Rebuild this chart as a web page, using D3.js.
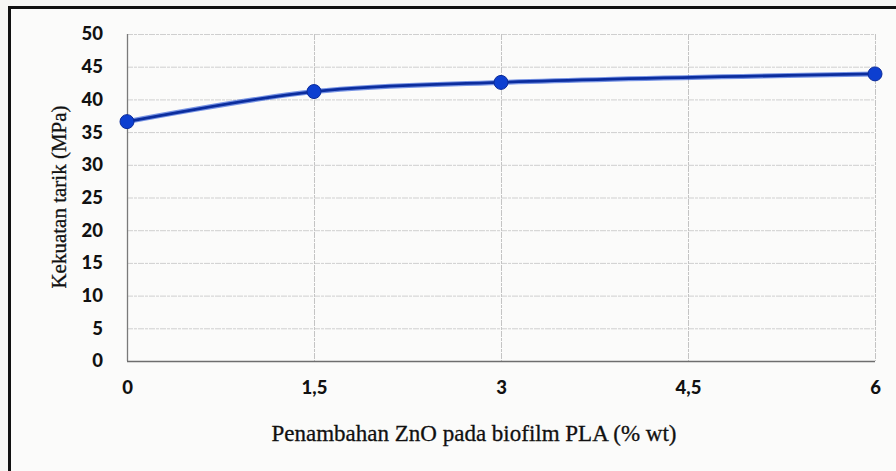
<!DOCTYPE html>
<html>
<head>
<meta charset="utf-8">
<script src="https://cdn.jsdelivr.net/npm/d3@7"></script>
<style>
  html, body { margin: 0; padding: 0; background: #f6f6f4; }
  svg { display: block; }
</style>
</head>
<body>
<svg id="chart" width="896" height="471"></svg>
<script>
// ZnO loading (% wt) and measured tensile strength (MPa)
const zno = [0, 1.5, 3, 6];
const strength = [36.6, 41.2, 42.6, 43.9];
const xTicks = [0, 1.5, 3, 4.5, 6];
const xTickLabels = ["0", "1,5", "3", "4,5", "6"];
const yTicks = [0, 5, 10, 15, 20, 25, 30, 35, 40, 45, 50];
const xTitle = "Penambahan ZnO pada biofilm PLA (% wt)";
const yTitle = "Kekuatan tarik (MPa)";

const svg = d3.select("#chart");
const W = 896, H = 471;
const plot = { left: 127, right: 875, top: 34, bottom: 361 };

// outer frame (top and left edges of the figure box)
svg.append("rect").attr("x", 9).attr("y", 7).attr("width", W).attr("height", H)
  .attr("fill", "#fbfbfa");
svg.append("line").attr("x1", 9).attr("x2", W).attr("y1", 7.5).attr("y2", 7.5)
  .attr("stroke", "#111").attr("stroke-width", 3);
svg.append("line").attr("x1", 9.5).attr("x2", 9.5).attr("y1", 6).attr("y2", H)
  .attr("stroke", "#111").attr("stroke-width", 3);

const x = d3.scaleLinear().domain([0, 6]).range([plot.left, plot.right]);
const y = d3.scaleLinear().domain([0, 50]).range([plot.bottom, plot.top]);

// gridlines
const grid = svg.append("g");
grid.selectAll(".hg").data(yTicks.filter(d => d > 0)).join("line")
  .attr("x1", plot.left).attr("x2", plot.right)
  .attr("y1", d => y(d) + 0.5).attr("y2", d => y(d) + 0.5)
  .attr("stroke", "#cfcfcf").attr("stroke-width", 1)
  .attr("stroke-dasharray", "6 1 3 1");
grid.selectAll(".vg").data(xTicks.filter(d => d > 0)).join("line")
  .attr("x1", d => x(d) + 0.5).attr("x2", d => x(d) + 0.5)
  .attr("y1", plot.top).attr("y2", plot.bottom)
  .attr("stroke", "#c4c4c4").attr("stroke-width", 1)
  .attr("stroke-dasharray", "6 1 3 1");

// axis lines
svg.append("line").attr("x1", plot.left + 0.5).attr("x2", plot.left + 0.5)
  .attr("y1", plot.top).attr("y2", plot.bottom)
  .attr("stroke", "#7a7a7a").attr("stroke-width", 1.3);
svg.append("line").attr("x1", plot.left).attr("x2", plot.right)
  .attr("y1", plot.bottom + 0.5).attr("y2", plot.bottom + 0.5)
  .attr("stroke", "#6e6e6e").attr("stroke-width", 1.3);

const tickFont = g => g.selectAll("text")
  .attr("font-family", "Lato, 'Open Sans', sans-serif")
  .attr("font-weight", 900).attr("font-size", 18.5).attr("fill", "#111");

// y axis tick labels
const yAxis = d3.axisLeft(y).tickValues(yTicks).tickSize(0).tickPadding(24);
svg.append("g").attr("transform", `translate(${plot.left},0)`).call(yAxis)
  .call(g => g.select(".domain").remove())
  .call(tickFont);

// x axis tick labels
const xAxis = d3.axisBottom(x).tickValues(xTicks)
  .tickFormat((d, i) => xTickLabels[i]).tickSize(0).tickPadding(20);
svg.append("g").attr("transform", `translate(0,${plot.bottom})`).call(xAxis)
  .call(g => g.select(".domain").remove())
  .call(tickFont);

// axis titles
svg.append("text").attr("x", 474).attr("y", 441)
  .attr("text-anchor", "middle")
  .attr("font-family", "'Liberation Serif', 'Times New Roman', serif")
  .attr("font-size", 23).attr("fill", "#111")
  .attr("stroke", "#111").attr("stroke-width", 0.3).text(xTitle);
svg.append("text")
  .attr("transform", "translate(66,197) rotate(-90)")
  .attr("text-anchor", "middle")
  .attr("font-family", "'Liberation Serif', 'Times New Roman', serif")
  .attr("font-size", 21).attr("fill", "#111")
  .attr("stroke", "#111").attr("stroke-width", 0.3).text(yTitle);

// smoothed series line with markers
const pts = zno.map((v, i) => [v, strength[i]]);
const line = d3.line().x(d => x(d[0])).y(d => y(d[1])).curve(d3.curveCatmullRom.alpha(0.5));
svg.append("path").datum(pts).attr("d", line)
  .attr("fill", "none").attr("stroke", "#1f4fd6").attr("stroke-width", 5)
  .attr("stroke-linecap", "round").attr("opacity", 0.6);
svg.append("path").datum(pts).attr("d", line)
  .attr("fill", "none").attr("stroke", "#0b2d9e").attr("stroke-width", 2.8)
  .attr("stroke-linecap", "round");
svg.selectAll(".pt").data(pts).join("circle")
  .attr("cx", d => x(d[0])).attr("cy", d => y(d[1])).attr("r", 7)
  .attr("fill", "#0d3fd0").attr("stroke", "#0a2a9a").attr("stroke-width", 1);
</script>
</body>
</html>
